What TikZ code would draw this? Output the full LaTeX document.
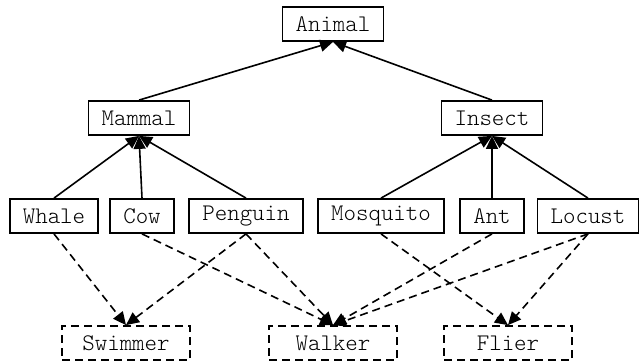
\documentclass[tikz,border=0pt]{standalone}
\usetikzlibrary{arrows.meta}

\tikzset{
  cls/.style={draw,line width=0.9pt,font=\ttfamily\fontseries{l}\fontsize{11.9}{13}\selectfont,minimum height=17pt,inner xsep=6.5pt,inner ysep=0pt},
  role/.style={cls,dash pattern=on 4pt off 2.5pt,minimum width=64pt},
  isa/.style={-{Triangle[length=6.5pt,width=6pt]},line width=0.8pt},
  can/.style={isa,dash pattern=on 4pt off 2.5pt},
}

\begin{document}
\begin{tikzpicture}[x=0.5pt,y=-0.5pt]
                \useasboundingbox (0,0) rectangle (639,360);
                \node[cls] (animal) at (333,24) {Animal};
                \node[cls] (mammal) at (139,118) {Mammal};
                \node[cls] (insect) at (492,118) {Insect};
                \node[cls] (whale) at (54,216) {Whale};
                \node[cls] (cow) at (142,216) {Cow};
                \node[cls] (penguin) at (246,216) {Penguin};
                \node[cls] (mosquito) at (381,216) {Mosquito};
                \node[cls] (ant) at (492,216) {Ant};
                \node[cls] (locust) at (588,216) {Locust};
                \node[role] (swimmer) at (126,343) {Swimmer};
                \node[role] (walker) at (333,343) {Walker};
                \node[role] (flier) at (508,343) {Flier};
                \foreach \a/\b in {mammal/animal,insect/animal,whale/mammal,cow/mammal,penguin/mammal,mosquito/insect,ant/insect,locust/insect}
                    \draw[isa] (\a.north) -- (\b.south);
                \foreach \a/\b in {whale/swimmer,penguin/swimmer,cow/walker,penguin/walker,ant/walker,locust/walker,mosquito/flier,locust/flier}
                    \draw[can] (\a.south) -- (\b.north);
            \end{tikzpicture}
\end{document}
